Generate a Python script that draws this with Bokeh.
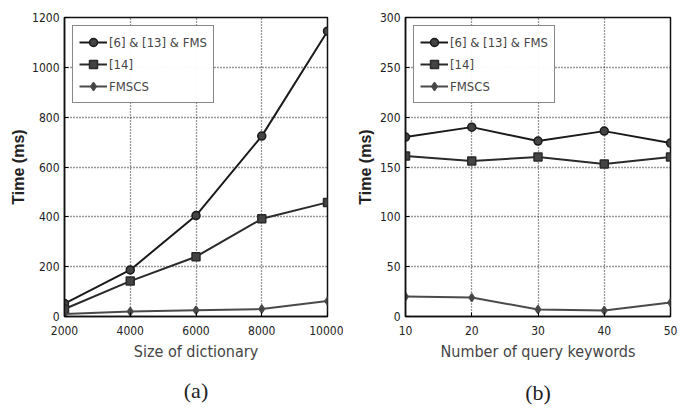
from bokeh.plotting import figure
from bokeh.layouts import row
from bokeh.models import Title, Legend, LegendItem, FixedTicker, Range1d
from bokeh.embed import file_html
from bokeh.resources import INLINE

# ---- data ----
series_names = ["[6] & [13] & FMS", "[14]", "FMSCS"]

dict_sizes = [2000, 4000, 6000, 8000, 10000]
a_fms = [52, 187, 405, 724, 1145]
a_14 = [30, 142, 240, 392, 458]
a_fmscs = [10, 20, 25, 30, 62]

keywords = [10, 20, 30, 40, 50]
b_fms = [180, 190, 176, 186, 174]
b_14 = [161, 156, 160, 153, 160]
b_fmscs = [20, 19, 7, 6, 14]

a_xticks = [2000, 4000, 6000, 8000, 10000]
a_yticks = [0, 200, 400, 600, 800, 1000, 1200]
b_xticks = [10, 20, 30, 40, 50]
b_yticks = [0, 50, 100, 150, 200, 250, 300]

LINE_COLORS = ["#1a1a1a", "#2a2a2a", "#4a4a4a"]
MARKERS = ["circle", "square", "diamond"]
TICK_FONT = "DejaVu Sans Condensed"


def make_plot(xs, ys_list, xr, yr, xticks, yticks, xlabel, caption, w, bl, br, bt, bb, cap_standoff):
    p = figure(width=w, height=419, output_backend="svg", toolbar_location=None,
               x_range=Range1d(*xr), y_range=Range1d(*yr),
               min_border_left=bl, min_border_right=br, min_border_top=bt, min_border_bottom=bb)
    p.background_fill_color = "white"
    p.border_fill_color = "white"
    p.outline_line_color = "#111111"
    p.outline_line_width = 1.5

    p.xaxis.ticker = FixedTicker(ticks=xticks)
    p.yaxis.ticker = FixedTicker(ticks=yticks)
    for ax in (p.xaxis, p.yaxis):
        ax.major_tick_in = 4
        ax.major_tick_out = 0
        ax.minor_tick_line_color = None
        ax.axis_line_color = "#111111"
        ax.axis_line_width = 1.5
        ax.major_label_text_font = TICK_FONT
        ax.major_label_text_font_size = "12px"
        ax.major_label_text_color = "#222222"
    p.xaxis.axis_label = xlabel
    p.xaxis.axis_label_text_font = TICK_FONT
    p.xaxis.axis_label_text_font_size = "16px"
    p.xaxis.axis_label_text_font_style = "normal"
    p.xaxis.axis_label_standoff = 4
    p.xaxis.major_label_standoff = 9

    p.xgrid.grid_line_color = "#333333"
    p.ygrid.grid_line_color = "#333333"
    p.xgrid.grid_line_dash = "1 2"
    p.ygrid.grid_line_dash = "1 2"
    p.xgrid.grid_line_width = 1.3
    p.ygrid.grid_line_width = 1.3

    items = []
    for name, ys, col, mk in zip(series_names, ys_list, LINE_COLORS, MARKERS):
        r1 = p.line(xs, ys, line_color=col, line_width=2)
        r2 = p.scatter(xs, ys, marker=mk, size=8, fill_color="#444444",
                       line_color=col, line_width=1.5)
        items.append(LegendItem(label=name, renderers=[r1, r2]))

    leg = Legend(items=items, location="top_left")
    leg.border_line_color = "#111111"
    leg.border_line_width = 1.5
    leg.label_text_font = TICK_FONT
    leg.label_text_font_size = "13px"
    leg.glyph_width = 28
    leg.glyph_height = 20
    leg.label_height = 20
    leg.spacing = 2
    leg.padding = 6
    leg.margin = 8
    leg.label_standoff = 2
    p.add_layout(leg)

    ylab = Title(text="Time (ms)", align="center", offset=14, text_font="Liberation Sans",
                 text_font_size="16px", text_font_style="bold", text_color="#222222",
                 standoff=6)
    p.add_layout(ylab, "left")

    cap = Title(text=caption, align="center", text_font="Liberation Serif",
                text_font_size="22px", text_font_style="normal", text_color="#222222",
                standoff=cap_standoff)
    p.add_layout(cap, "below")
    return p


pa = make_plot(dict_sizes, [a_fms, a_14, a_fmscs], (2000, 10000), (0, 1200),
               a_xticks, a_yticks, "Size of dictionary", "(a)", 343, 64, 16, 14, 103, 24)
pb = make_plot(keywords, [b_fms, b_14, b_fmscs], (10, 50), (0, 300),
               b_xticks, b_yticks, "Number of query keywords", "(b)", 344, 62, 17, 17, 101, 28)

layout = row(pa, pb)
open("out.html", "w").write(file_html(layout, INLINE))
